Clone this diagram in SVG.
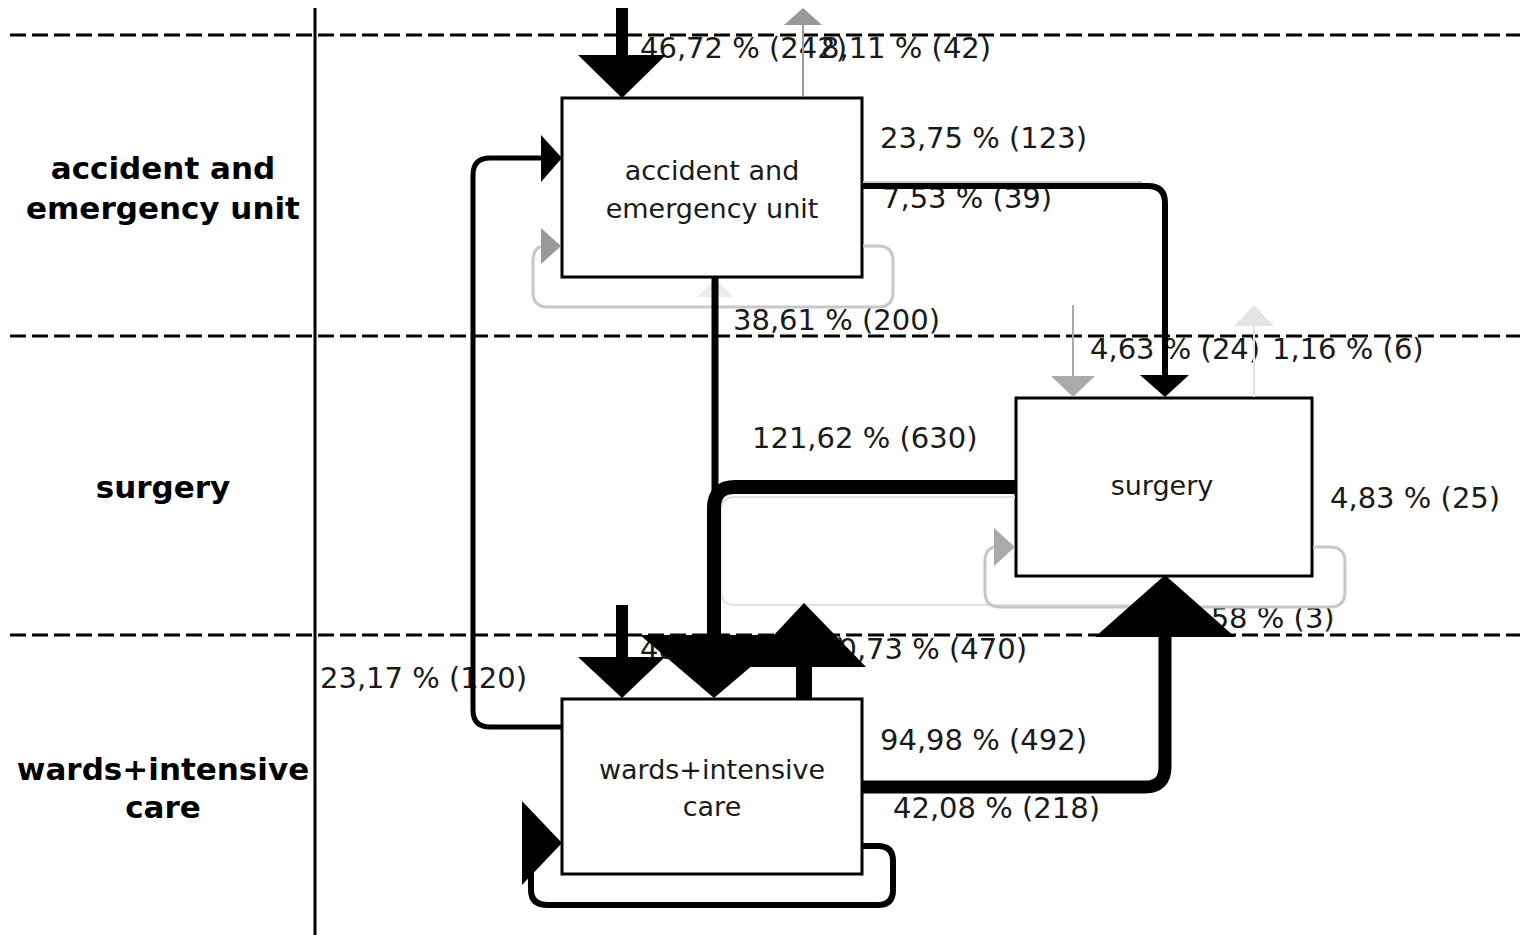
<svg xmlns="http://www.w3.org/2000/svg" width="1520" height="935" viewBox="0 0 1520 935">
<style>
.lane{fill:none;stroke:#000;stroke-width:3;stroke-dasharray:16 6}
.sep{fill:none;stroke:#000;stroke-width:3}
.box{fill:#fff;stroke:#000;stroke-width:3}
.nt{font-family:"DejaVu Sans",Verdana,sans-serif;font-size:27px;fill:#1a1a1a;text-anchor:middle}
.lt{font-family:"DejaVu Sans",Verdana,sans-serif;font-size:31px;font-weight:bold;fill:#000;text-anchor:middle}
.lb{font-family:"DejaVu Sans",Verdana,sans-serif;font-size:29px;fill:#1a1a1a}
.c{fill:none;stroke:#000;stroke-linejoin:round}
.k{fill:#000}
.g1{fill:none;stroke:#aaa}
.g2{fill:none;stroke:#c8c8c8}
.g3{fill:none;stroke:#e2e2e2}
</style>
<rect width="1520" height="935" fill="#fff"/>
<g id="lanes">
<line class="lane" x1="10" y1="35" x2="1520" y2="35"/>
<line class="lane" x1="10" y1="336" x2="1520" y2="336"/>
<line class="lane" x1="10" y1="635" x2="1520" y2="635"/>
<line class="sep" x1="315" y1="8" x2="315" y2="935"/>
<text class="lt" x="163" y="179">accident and</text>
<text class="lt" x="163" y="219">emergency unit</text>
<text class="lt" x="163" y="498">surgery</text>
<text class="lt" x="163" y="780">wards+intensive</text>
<text class="lt" x="163" y="818">care</text>
</g>
<g id="node-ae">
<rect class="box" x="562" y="98" width="300" height="179"/>
<text class="nt" x="712" y="180">accident and</text>
<text class="nt" x="712" y="218">emergency unit</text>
</g>
<g id="node-surgery">
<rect class="box" x="1016" y="398" width="296" height="178"/>
<text class="nt" x="1162" y="495">surgery</text>
</g>
<g id="node-wards">
<rect class="box" x="562" y="699" width="300" height="175"/>
<text class="nt" x="712" y="779">wards+intensive</text>
<text class="nt" x="712" y="816">care</text>
</g>
<g id="labels">
<text class="lb" x="640" y="58">46,72 % (242)</text>
<text class="lb" x="821" y="58">8,11 % (42)</text>
<text class="lb" x="880" y="148">23,75 % (123)</text>
<text class="lb" x="882" y="208">7,53 % (39)</text>
<text class="lb" x="733" y="330">38,61 % (200)</text>
<text class="lb" x="1090" y="359">4,63 % (24)</text>
<text class="lb" x="1272" y="359">1,16 % (6)</text>
<text class="lb" x="752" y="448">121,62 % (630)</text>
<text class="lb" x="1330" y="508">4,83 % (25)</text>
<text class="lb" x="1183" y="628">0,58 % (3)</text>
<text class="lb" x="640" y="659">48,65 % (252)</text>
<text class="lb" x="820" y="659">90,73 % (470)</text>
<text class="lb" x="320" y="688">23,17 % (120)</text>
<text class="lb" x="880" y="750">94,98 % (492)</text>
<text class="lb" x="893" y="818">42,08 % (218)</text>
</g>
<g id="connectors">
<!-- surgery -> A&E (3) -->
<path class="g3" stroke-width="2" d="M1165,577 V590 Q1165,605 1150,605 H735 Q721,605 721,590 V497 L715,488 V296"/>
<polygon fill="#ececec" points="697,297 733,297 715,279"/>
<path class="g3" stroke-width="2" d="M1015,497 H735 Q721,497 721,511"/>
<!-- surgery self-loop (25) -->
<path class="g2" stroke-width="3" d="M1313,547 H1330 Q1345,547 1345,562 V592 Q1345,607 1330,607 H1000 Q985,607 985,592 V562 Q985,547 997,547"/>
<polygon fill="#aaa" points="994,528 994,566 1015,547"/>
<!-- A&E self-loop (39) -->
<path class="g2" stroke-width="3" d="M863,246 H878 Q893,246 893,261 V292 Q893,307 878,307 H548 Q533,307 533,292 V261 Q533,246 545,246"/>
<polygon fill="#999" points="541,228 541,264 561,246"/>
<!-- start -> surgery (24) -->
<line class="g1" stroke-width="2" x1="1073" y1="305" x2="1073" y2="380"/>
<polygon fill="#aaa" points="1051,376 1095,376 1073,397"/>
<!-- surgery -> end (6) -->
<line class="g3" stroke-width="2" x1="1254" y1="397" x2="1254" y2="322"/>
<polygon fill="#e4e4e4" points="1234,326 1274,326 1254,305"/>
<!-- A&E -> end (42) -->
<line stroke="#999" stroke-width="2" x1="803" y1="97" x2="803" y2="22"/>
<polygon fill="#999" points="784,25 822,25 803,8"/>
<!-- start -> A&E (242) -->
<line stroke="#000" stroke-width="12" x1="622" y1="8" x2="622" y2="60"/>
<polygon class="k" points="578,55 666,55 622,98"/>
<!-- A&E -> surgery (123) -->
<path class="g2" stroke-width="2" d="M863,182 H1142"/>
<path class="c" stroke-width="6" d="M863,186 H1148 Q1165,186 1165,203 V380"/>
<polygon class="k" points="1140,375 1189,375 1165,397"/>
<!-- wards -> A&E (120) -->
<path class="c" stroke-width="5" d="M561,727 H490 Q473,727 473,710 V175 Q473,158 490,158 H545"/>
<polygon class="k" points="541,135 541,182 562,158"/>
<!-- A&E -> wards (200) -->
<line stroke="#000" stroke-width="7" x1="715" y1="278" x2="715" y2="640"/>
<!-- surgery -> wards (630) -->
<path class="c" stroke-width="14" d="M1015,487 H735 Q714,487 714,508 V640"/>
<polygon class="k" points="640,635 788,635 714,698"/>
<!-- start -> wards (252) -->
<line stroke="#000" stroke-width="12" x1="622" y1="605" x2="622" y2="662"/>
<polygon class="k" points="578,657 665,657 622,698"/>
<!-- wards -> end (470) -->
<line stroke="#000" stroke-width="16" x1="804" y1="698" x2="804" y2="662"/>
<polygon class="k" points="744,667 866,667 804,603"/>
<!-- wards -> surgery (492) -->
<path class="c" stroke-width="13" d="M863,787 H1145 Q1165,787 1165,767 V630"/>
<polygon class="k" points="1095,637 1235,637 1165,575"/>
<!-- wards self-loop (218) -->
<path class="c" stroke-width="6" d="M863,846 H878 Q893,846 893,861 V890 Q893,905 878,905 H548 Q531,905 531,890 V868"/>
<polygon class="k" points="522,801 522,885 562,843"/>
</g>
</svg>
